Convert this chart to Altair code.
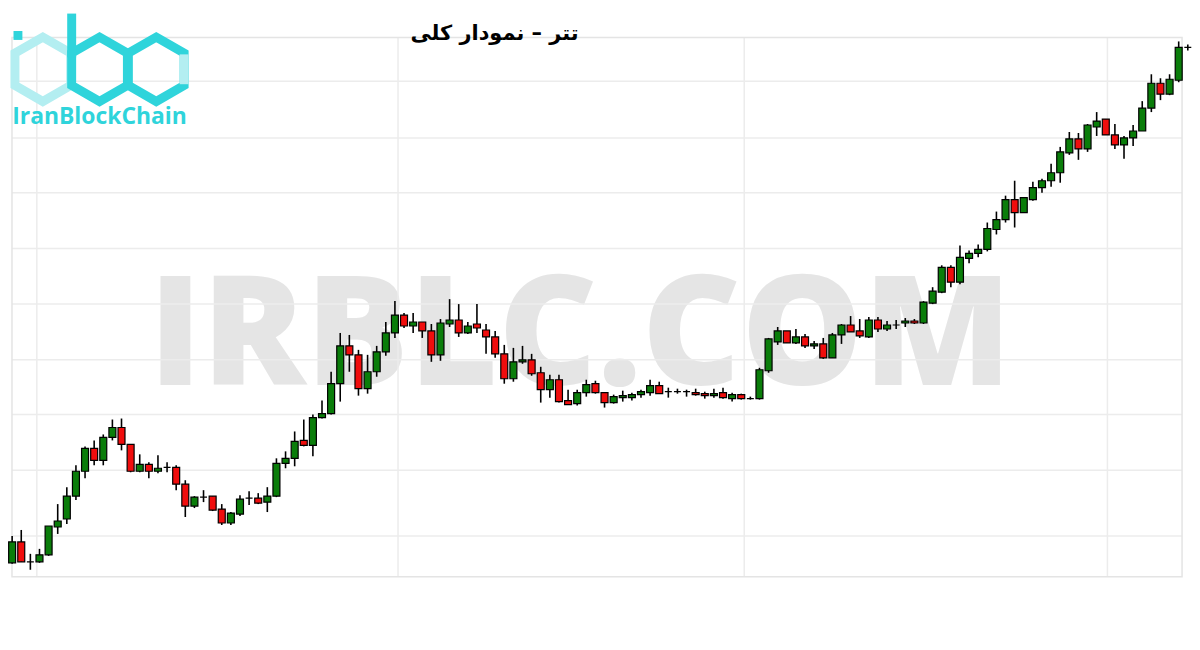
import altair as alt
import pandas as pd

# ---- candle values (price units) ----
open_ = [32, 36, 57, 37, 37, 44, 72, 80, 103, 128, 151, 139, 162, 172, 155, 128, 135, 128, 132, 132,
         115, 93, 102, 103, 90, 76, 85, 101, 101, 97, 103, 136, 141, 159, 154, 182, 186, 216, 254, 245,
         211, 228, 248, 267, 285, 274, 278, 269, 245, 276, 280, 267, 276, 270, 263, 246, 221, 238, 240, 227,
         210, 220, 199, 196, 207, 216, 207, 197, 202, 202, 205, 207, 214, 208, 208, 208, 207, 206, 204, 207,
         201, 205, 201, 201, 229, 258, 269, 257, 263, 254, 256, 242, 265, 275, 269, 263, 280, 271, 275, 277,
         279, 277, 297, 308, 333, 318, 342, 347, 351, 371, 381, 401, 388, 401, 413, 420, 428, 448, 462, 452,
         474, 482, 466, 456, 463, 470, 493, 518, 507, 521, 554]
high_ = [42, 63, 69, 45, 50, 73, 95, 112, 134, 153, 159, 165, 180, 181, 155, 145, 137, 144, 137, 134,
         119, 103, 109, 103, 95, 87, 104, 108, 106, 112, 141, 148, 168, 180, 185, 199, 228, 267, 265, 250,
         245, 254, 278, 299, 287, 287, 278, 276, 281, 301, 296, 278, 296, 276, 269, 255, 252, 254, 246, 233,
         225, 225, 210, 210, 220, 219, 207, 205, 209, 207, 210, 220, 218, 212, 211, 210, 211, 208, 211, 212,
         207, 206, 203, 232, 262, 273, 269, 271, 266, 259, 262, 267, 276, 284, 281, 283, 283, 279, 280, 282,
         281, 299, 313, 335, 335, 355, 350, 356, 378, 389, 405, 420, 403, 419, 422, 437, 454, 469, 468, 477,
         489, 482, 477, 465, 476, 500, 527, 523, 527, 560, 557]
low_ = [30, 35, 37, 29, 36, 43, 65, 75, 99, 121, 134, 134, 159, 149, 127, 127, 121, 126, 127, 109,
        82, 91, 97, 88, 74, 74, 83, 94, 95, 87, 102, 131, 133, 153, 143, 181, 185, 198, 228, 204,
        206, 223, 244, 262, 272, 267, 262, 238, 239, 273, 263, 266, 267, 246, 242, 216, 218, 236, 224, 197,
        202, 197, 195, 194, 203, 206, 192, 196, 198, 199, 202, 204, 206, 202, 206, 203, 204, 201, 202, 201,
        198, 200, 200, 200, 227, 255, 257, 256, 252, 251, 241, 242, 256, 268, 262, 262, 268, 269, 271, 273,
        276, 276, 296, 307, 313, 316, 337, 343, 349, 366, 378, 373, 388, 400, 408, 414, 418, 446, 441, 449,
        465, 466, 452, 442, 455, 470, 489, 501, 506, 519, 551]
close_ = [37, 57, 37, 37, 44, 73, 78, 103, 128, 151, 139, 162, 172, 155, 128, 135, 128, 131, 132, 115,
          93, 102, 102, 89, 76, 86, 100, 101, 96, 103, 136, 141, 158, 154, 182, 186, 216, 254, 245, 211,
          228, 248, 267, 285, 274, 278, 269, 245, 277, 280, 267, 274, 272, 263, 246, 221, 238, 240, 226, 210,
          220, 198, 195, 207, 215, 207, 197, 203, 204, 205, 208, 214, 206, 208, 208, 208, 205, 204, 206, 202,
          205, 201, 201, 230, 261, 269, 257, 263, 254, 256, 242, 265, 275, 268, 264, 280, 271, 275, 275, 279,
          277, 298, 309, 333, 318, 343, 347, 351, 372, 381, 401, 388, 403, 413, 420, 428, 449, 462, 452, 476,
          480, 466, 456, 463, 470, 493, 518, 507, 522, 554, 554]

grid_levels = [520, 463, 408, 352, 296, 240, 185, 129, 63]
vgrid_pos = [4.71, 44.34, 82.33, 122.18]

title_text = "تتر – نمودار کلی"
watermark_text = "IRBLC.COM"
brand_text = "IranBlockChain"

GREEN = "#0a7d0a"
RED = "#f00d0d"
CYAN = "#2fd4db"
LIGHT_CYAN = "#b3eef1"

n = len(open_)
df = pd.DataFrame({"i": list(range(1, n + 1)), "open": open_, "high": high_,
                   "low": low_, "close": close_})
df["dir"] = ["up" if c >= o else "down" for o, c in zip(open_, close_)]

W, H = 1190, 634
xs = alt.Scale(domain=[1.546, 131.46], range=[0, W], nice=False, zero=False, padding=0)
ys = alt.Scale(domain=[-42, 592], range=[H, 0], nice=False, zero=False, padding=0)
one = pd.DataFrame({"k": [0]})

watermark = alt.Chart(one).mark_text(
    text=watermark_text, font="Open Sans", fontWeight=800, fontSize=154,
    color="#e5e5e5", align="center", baseline="alphabetic"
).encode(x=alt.value(575), y=alt.value(377))

hgrid = alt.Chart(pd.DataFrame({"level": grid_levels})).mark_rule(
    color="#ececec", strokeWidth=1.5
).encode(y=alt.Y("level:Q", scale=ys, axis=None), x=alt.value(4), x2=alt.value(1180))

vgrid = alt.Chart(pd.DataFrame({"pos": vgrid_pos})).mark_rule(
    color="#ececec", strokeWidth=1.5
).encode(x=alt.X("pos:Q", scale=xs, axis=None), y=alt.value(28), y2=alt.value(570))

frame = alt.Chart(one).mark_rect(
    fill=None, fillOpacity=0, stroke="#e4e4e4", strokeWidth=1.5
).encode(x=alt.value(4), x2=alt.value(1180), y=alt.value(28), y2=alt.value(570))

wicks = alt.Chart(df).mark_rule(color="black", strokeWidth=1.6).encode(
    x=alt.X("i:Q", scale=xs, axis=None),
    y=alt.Y("low:Q", scale=ys, axis=None),
    y2="high:Q",
)

bodies = alt.Chart(df).mark_bar(size=7, stroke="black", strokeWidth=1.2, opacity=1).encode(
    x=alt.X("i:Q", scale=xs, axis=None),
    y=alt.Y("open:Q", scale=ys, axis=None),
    y2="close:Q",
    color=alt.Color("dir:N", scale=alt.Scale(domain=["up", "down"], range=[GREEN, RED]), legend=None),
)

HEX = "M0,-1L0.866,-0.5L0.866,0.5L0,1L-0.866,0.5L-0.866,-0.5Z"
hex_i = alt.Chart(one).mark_point(shape=HEX, size=4186, filled=False, color=LIGHT_CYAN,
                                  strokeWidth=9, opacity=1, strokeJoin="miter").encode(
    x=alt.value(35), y=alt.value(60))
hex_b = alt.Chart(one).mark_point(shape=HEX, size=4186, filled=False, color=CYAN,
                                  strokeWidth=9, opacity=1, strokeJoin="miter").encode(
    x=alt.value(92), y=alt.value(60))
hex_c = alt.Chart(one).mark_point(shape=HEX, size=4186, filled=False, color=CYAN,
                                  strokeWidth=9, opacity=1, strokeJoin="miter").encode(
    x=alt.value(149), y=alt.value(60))
c_side = alt.Chart(one).mark_rule(color=LIGHT_CYAN, strokeWidth=9).encode(
    x=alt.value(177), y=alt.value(45), y2=alt.value(75))
stem = alt.Chart(one).mark_rule(color=CYAN, strokeWidth=9).encode(
    x=alt.value(64), y=alt.value(4), y2=alt.value(48))
dot = alt.Chart(one).mark_point(shape="square", size=80, filled=True, color=CYAN, opacity=1).encode(
    x=alt.value(10), y=alt.value(26))
brand = alt.Chart(one).mark_text(
    text=brand_text, font="Open Sans", fontWeight="bold", fontSize=23, color=CYAN,
    align="center", baseline="middle"
).encode(x=alt.value(92), y=alt.value(108))

title = alt.Chart(one).mark_text(
    text=title_text, font="DejaVu Sans", fontWeight="bold", fontSize=21, color="black",
    align="center", baseline="middle"
).encode(x=alt.value(489), y=alt.value(25))

chart = alt.layer(
    watermark, hgrid, vgrid, frame, wicks, bodies,
    hex_i, hex_b, hex_c, c_side, stem, dot, brand, title
).properties(
    width=W, height=H, padding=0, background="white",
    autosize=alt.AutoSizeParams(type="none")
).configure_view(strokeWidth=0)

chart.save("out.html", embed_options={"renderer": "svg", "actions": False})
